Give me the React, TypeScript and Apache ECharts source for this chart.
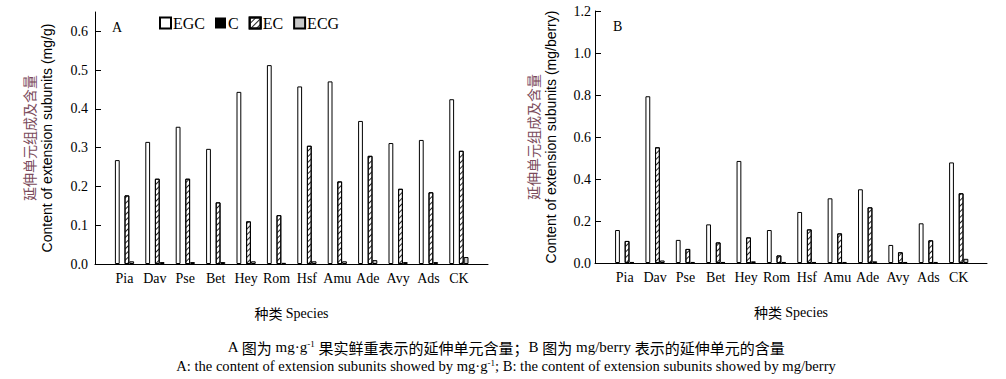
import React, { useEffect, useRef } from 'react';
import * as echarts from 'echarts';

const categories = ['Pia', 'Dav', 'Pse', 'Bet', 'Hey', 'Rom', 'Hsf', 'Amu', 'Ade', 'Avy', 'Ads', 'CK'];
const seriesNames = ['EGC', 'C', 'EC', 'ECG'];

// Panel A (mg/g)
const egcA = [0.268, 0.315, 0.354, 0.297, 0.444, 0.513, 0.458, 0.471, 0.369, 0.312, 0.320, 0.425];
const cA = [0, 0, 0, 0, 0, 0, 0, 0, 0, 0, 0, 0];
const ecA = [0.177, 0.220, 0.220, 0.159, 0.110, 0.126, 0.305, 0.213, 0.279, 0.194, 0.185, 0.292];
const ecgA = [0.007, 0.005, 0.005, 0.005, 0.007, 0.003, 0.007, 0.007, 0.010, 0.005, 0.005, 0.018];

// Panel B (mg/berry)
const egcB = [0.157, 0.794, 0.110, 0.184, 0.486, 0.157, 0.243, 0.308, 0.351, 0.086, 0.189, 0.479];
const cB = [0, 0, 0, 0, 0, 0, 0, 0, 0, 0, 0, 0];
const ecB = [0.105, 0.551, 0.067, 0.098, 0.122, 0.036, 0.160, 0.141, 0.265, 0.051, 0.108, 0.332];
const ecgB = [0.005, 0.012, 0.005, 0.005, 0.008, 0.005, 0.005, 0.005, 0.008, 0.005, 0.005, 0.020];

const yNameA = 'Content of extension subunits (mg/g)';
const yNameB = 'Content of extension subunits (mg/berry)';
const yNameCn = '延伸单元组成及含量';

const SERIF = '"Liberation Serif", "Times New Roman", serif';
const SANS = '"Liberation Sans", Arial, sans-serif';
const CJK = '"Noto Sans CJK SC", sans-serif';

const styles: Record<string, any> = {
  EGC: { color: '#ffffff', borderColor: '#000', borderWidth: 1 },
  C: { color: '#000000', borderColor: '#000', borderWidth: 0 },
  EC: {
    color: '#ffffff',
    borderColor: '#000',
    borderWidth: 1,
    decal: {
      symbol: 'rect',
      symbolSize: 1,
      dashArrayX: [[1, 0]],
      dashArrayY: [1, 2.6],
      rotation: -Math.PI / 4,
      color: '#222',
      backgroundColor: '#ffffff',
    },
  },
  ECG: { color: '#c8c8c8', borderColor: '#000', borderWidth: 1 },
};

export default function App() {
  const ref = useRef<HTMLDivElement>(null);
  useEffect(() => {
    if (!ref.current) return;
    const chart = echarts.init(ref.current, undefined, { renderer: 'svg' });

    const yName = (en: string) => `{cn|${yNameCn}}\n{en|${en}}`;
    const yNameStyle = {
      rich: {
        cn: { fontFamily: CJK, fontSize: 14, color: '#7b4b5b', lineHeight: 18 },
        en: { fontFamily: SANS, fontSize: 14, color: '#000', lineHeight: 18 },
      },
    };

    const frameX = (gi: number, withName: boolean) => ({
      type: 'value',
      gridIndex: gi,
      min: 0,
      max: 1,
      axisLine: { show: true, lineStyle: { color: '#000', width: 1 } },
      axisTick: { show: false },
      axisLabel: { show: false },
      splitLine: { show: false },
      name: withName ? '{c|种类} {t|Species}' : '',
      nameLocation: 'middle',
      nameGap: 42,
      nameTextStyle: {
        rich: {
          c: { fontFamily: CJK, fontSize: 14, color: '#000' },
          t: { fontFamily: SERIF, fontSize: 14, color: '#000' },
        },
      },
    });
    const catX = (gi: number) => ({
      type: 'category',
      gridIndex: gi,
      data: categories,
      axisLine: { show: false },
      axisTick: { show: false },
      axisLabel: { fontFamily: SERIF, fontSize: 14, color: '#000', margin: 7, interval: 0 },
    });
    const frameY = (gi: number, max: number, interval: number, name: string, gap: number, margin: number, showMax: boolean) => ({
      type: 'value',
      gridIndex: gi,
      min: 0,
      max,
      interval,
      axisLine: { show: true, lineStyle: { color: '#000', width: 1 } },
      axisTick: { show: true, inside: true, length: 6, lineStyle: { color: '#000' } },
      axisLabel: {
        fontFamily: SERIF,
        fontSize: 14,
        color: '#000',
        margin,
        showMaxLabel: showMax,
        formatter: (v: number) => v.toFixed(1),
      },
      splitLine: { show: false },
      name,
      nameLocation: 'middle',
      nameGap: gap,
      nameTextStyle: yNameStyle,
    });
    const hiddenY = (gi: number, max: number) => ({
      type: 'value',
      gridIndex: gi,
      min: 0,
      max,
      show: false,
      splitLine: { show: false },
    });

    const mk = (name: string, data: number[], xi: number, yi: number) => ({
      type: 'bar',
      name,
      data,
      xAxisIndex: xi,
      yAxisIndex: yi,
      barWidth: 4.8,
      barGap: '0%',
      itemStyle: styles[name],
      emphasis: { disabled: true },
    });

    const capRich = (size: number) => ({
      t: { fontFamily: SERIF, fontSize: size, fill: '#000' },
      c: { fontFamily: CJK, fontSize: size, fill: '#000' },
      sup: { fontFamily: SERIF, fontSize: 9, fill: '#000', verticalAlign: 'top', padding: [0, 0, 7, 0] },
    });

    chart.setOption({
      animation: false,
      backgroundColor: '#ffffff',
      legend: {
        left: 154,
        top: 10,
        itemWidth: 11,
        itemHeight: 11,
        itemGap: 10,
        icon: 'rect',
        selectedMode: false,
        textStyle: { fontFamily: SERIF, fontSize: 16, color: '#000', padding: [0, 0, 0, -3] },
        data: seriesNames,
      },
      grid: [
        { left: 95, top: 12, width: 393, height: 252 },
        { left: 109.3, top: 12, width: 364.8, height: 252 },
        { left: 595, top: 11, width: 392, height: 252 },
        { left: 609.5, top: 11, width: 364.4, height: 252 },
      ],
      xAxis: [frameX(0, true), catX(1), frameX(2, true), catX(3)],
      yAxis: [
        frameY(0, 0.65, 0.1, yName(yNameA), 39, 7, false),
        hiddenY(1, 0.65),
        frameY(2, 1.2, 0.2, yName(yNameB), 35, 4, true),
        hiddenY(3, 1.2),
      ],
      series: [
        mk('EGC', egcA, 1, 1),
        mk('C', cA, 1, 1),
        mk('EC', ecA, 1, 1),
        mk('ECG', ecgA, 1, 1),
        mk('EGC', egcB, 3, 3),
        mk('C', cB, 3, 3),
        mk('EC', ecB, 3, 3),
        mk('ECG', ecgB, 3, 3),
      ],
      graphic: [
        { type: 'text', left: 112, top: 20, style: { text: 'A', fontFamily: SERIF, fontSize: 14, fill: '#000' } },
        { type: 'text', left: 613, top: 19, style: { text: 'B', fontFamily: SERIF, fontSize: 14, fill: '#000' } },
        {
          type: 'text',
          x: 506,
          y: 347,
          style: {
            text: '{t|A }{c|图为}{t| mg·g}{sup|-1}{t| }{c|果实鲜重表示的延伸单元含量；}{t|B }{c|图为}{t| mg/berry }{c|表示的延伸单元的含量}',
            fontFamily: SERIF,
            fontSize: 15,
            fill: '#000',
            align: 'center',
            verticalAlign: 'middle',
            rich: capRich(15),
          },
        },
        {
          type: 'text',
          x: 506,
          y: 366,
          style: {
            text: '{t|A: the content of extension subunits showed by mg·g}{sup|-1}{t|; B: the content of extension subunits showed by mg/berry}',
            fontFamily: SERIF,
            fontSize: 14.6,
            fill: '#000',
            align: 'center',
            verticalAlign: 'middle',
            rich: capRich(14.6),
          },
        },
      ],
    });
    return () => chart.dispose();
  }, []);
  return (
    <div
      ref={ref}
      style={{ position: 'absolute', left: 0, top: 0, width: 1006, height: 379, background: '#fff' }}
    />
  );
}
